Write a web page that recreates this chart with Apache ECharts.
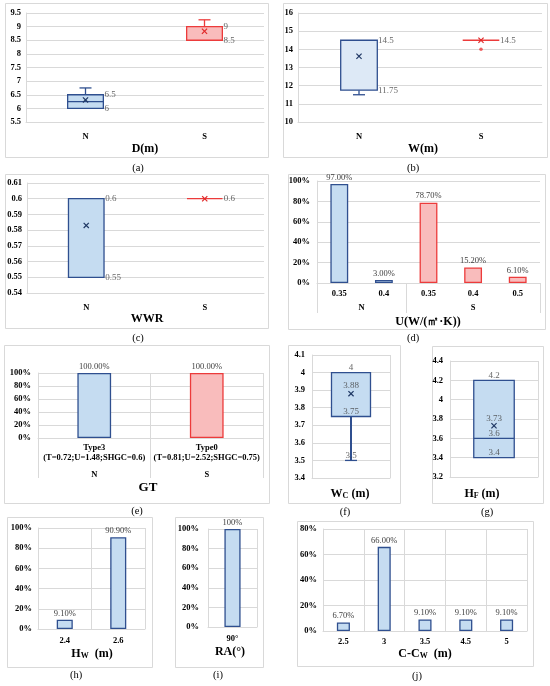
<!DOCTYPE html>
<html lang="en">
<head>
<meta charset="UTF-8">
<title>Parameter distributions</title>
<style>
  html, body { margin: 0; padding: 0; background: #fff; }
  #main { width: 550px; height: 686px; }
</style>
</head>
<body>
<div id="main"></div>
<script src="https://cdn.jsdelivr.net/npm/echarts@6/dist/echarts.min.js"></script>
<script>
// box stats are [min, Q1, median, Q3, max, mean]
// (a) D(m)
var dCats = ['N', 'S'];
var dN = [6, 6, 6.25, 6.5, 6.75, 6.31];
var dS = [8.5, 8.5, 9, 9, 9.25, 8.83];
// (b) W(m)
var wCats = ['N', 'S'];
var wN = [11.5, 11.75, 14.5, 14.5, 14.5, 13.62];
var wS = [14.5, 14.5, 14.5, 14.5, 14.5, 14.5];
var wSOutliers = [14];
// (c) WWR
var wwrCats = ['N', 'S'];
var wwrN = [0.55, 0.55, 0.6, 0.6, 0.6, 0.583];
var wwrS = [0.6, 0.6, 0.6, 0.6, 0.6, 0.6];
// (d) U share (%)
var uCats = ['0.35', '0.4', '0.35', '0.4', '0.5'];
var uGroups = ['N', 'N', 'S', 'S', 'S'];
var uVals = [97, 3, 78.7, 15.2, 6.1];
// (e) GT share (%)
var gtCats = ['Type3\n(T=0.72;U=1.48;SHGC=0.6)', 'Type0\n(T=0.81;U=2.52;SHGC=0.75)'];
var gtGroups = ['N', 'S'];
var gtVals = [100, 100];
// (f) Wc and (g) Hf
var wc = [3.5, 3.75, 3.75, 4, 4, 3.88];
var hf = [3.4, 3.4, 3.6, 4.2, 4.2, 3.73];
// (h) Hw, (i) RA, (j) C-Cw shares (%)
var hwCats = ['2.4', '2.6'];
var hwVals = [9.1, 90.9];
var raCats = ['90°'];
var raVals = [100];
var ccCats = ['2.5', '3', '3.5', '4.5', '5'];
var ccVals = [6.7, 66, 9.1, 9.1, 9.1];

var FONT = '"Liberation Serif", "Times New Roman", serif';
var GRID_C = '#d9d9d9', TXT = '#000', LBL = '#404040';
var BLUE = { fill: '#c5dcf1', line: '#2f4f8f', mark: '#1f3864' };
var BLUE_L = { fill: '#dde9f6', line: '#2f4f8f', mark: '#1f3864' };
var RED = { fill: '#f9bcbc', line: '#ec3b3b', mark: '#e02828' };

var myChart = echarts.init(document.getElementById('main'));

var grids = [], xAxes = [], yAxes = [], series = [], graphics = [];

function addGrid(l, t, w, h) {
  grids.push({ left: l, top: t, width: w, height: h, outerBoundsMode: 'none' });
  return grids.length - 1;
}

function catAxis(gi, cats, margin, split, showLabel) {
  xAxes.push({
    type: 'category', gridIndex: gi, data: cats,
    axisLine: { show: true, lineStyle: { color: GRID_C } },
    axisTick: { show: false },
    splitLine: { show: !!split, interval: 0, lineStyle: { color: GRID_C } },
    axisLabel: { show: showLabel !== false, interval: 0, margin: margin, fontFamily: FONT,
      fontWeight: 'bold', fontSize: 8.5, color: TXT, lineHeight: 10 }
  });
  return xAxes.length - 1;
}

function valAxis(gi, min, max, step, pct, margin) {
  yAxes.push({
    type: 'value', gridIndex: gi, min: min, max: max, interval: step,
    axisLine: { show: true, lineStyle: { color: GRID_C } }, axisTick: { show: false },
    splitLine: { lineStyle: { color: GRID_C } },
    axisLabel: { margin: margin, fontFamily: FONT, fontWeight: 'bold', fontSize: 8.5, color: TXT,
      formatter: pct ? '{value}%' : null }
  });
  return yAxes.length - 1;
}

// second level of a multi-level category axis (group names with separators)
function groupAxis(gi, groups, tickLen, margin) {
  var bounds = [0], centers = [], names = [];
  var start = 0;
  for (var i = 1; i <= groups.length; i++) {
    if (i === groups.length || groups[i] !== groups[i - 1]) {
      bounds.push(i);
      centers.push((start + i) / 2);
      names.push(groups[i - 1]);
      start = i;
    }
  }
  xAxes.push({
    type: 'value', gridIndex: gi, position: 'bottom', min: 0, max: groups.length,
    axisLine: { show: false }, splitLine: { show: false },
    axisTick: { show: true, customValues: bounds, length: tickLen, lineStyle: { color: GRID_C } },
    axisLabel: { customValues: centers, margin: margin, fontFamily: FONT, fontWeight: 'bold',
      fontSize: 8.5, color: TXT,
      formatter: function (v) { var k = centers.indexOf(v); return k < 0 ? '' : names[k]; } }
  });
}

function boxSeries(xi, yi, cat, st, col, frac, whiskerW) {
  return {
    type: 'custom', xAxisIndex: xi, yAxisIndex: yi, silent: true,
    encode: { x: 0, y: [1, 2, 3, 4, 5, 6] },
    data: [[cat].concat(st)],
    renderItem: function (params, api) {
      var x = api.value(0);
      var hw = api.size([1, 0])[0] * frac / 2;
      var p = [];
      for (var k = 1; k <= 6; k++) p.push(api.coord([x, api.value(k)]));
      var cx = p[0][0];
      var yMin = p[0][1], yQ1 = p[1][1], yMed = p[2][1], yQ3 = p[3][1], yMax = p[4][1], yMean = p[5][1];
      function ln(x1, y1, x2, y2, w, c) {
        return { type: 'line', shape: { x1: x1, y1: y1, x2: x2, y2: y2 },
          style: { stroke: c || col.line, lineWidth: w || 1.3 } };
      }
      var kids = [];
      if (yMax < yQ3 - 0.5) { kids.push(ln(cx, yQ3, cx, yMax, whiskerW)); kids.push(ln(cx - 6, yMax, cx + 6, yMax)); }
      if (yMin > yQ1 + 0.5) { kids.push(ln(cx, yQ1, cx, yMin, whiskerW)); kids.push(ln(cx - 6, yMin, cx + 6, yMin)); }
      if (yQ1 - yQ3 > 0.5) {
        kids.push({ type: 'rect', shape: { x: cx - hw, y: yQ3, width: 2 * hw, height: yQ1 - yQ3 },
          style: { fill: col.fill, stroke: col.line, lineWidth: 1.3 } });
      } else {
        kids.push(ln(cx - hw, yQ3, cx + hw, yQ3, 1.3));
      }
      if (yMed < yQ1 - 0.5 && yMed > yQ3 + 0.5) kids.push(ln(cx - hw, yMed, cx + hw, yMed));
      var m = 2.6;
      kids.push(ln(cx - m, yMean - m, cx + m, yMean + m, 1.2, col.mark));
      kids.push(ln(cx - m, yMean + m, cx + m, yMean - m, 1.2, col.mark));
      return { type: 'group', children: kids };
    }
  };
}

function labelSeries(xi, yi, pts, pos, dist) {
  return {
    type: 'scatter', xAxisIndex: xi, yAxisIndex: yi, silent: true,
    symbolSize: 0.1, itemStyle: { color: 'transparent' }, data: pts,
    label: { show: true, position: pos, distance: dist, fontFamily: FONT, fontSize: 9, color: LBL,
      formatter: function (p) { return String(p.value[1]); } }
  };
}

function pick(cat, st, idx) {
  return idx.map(function (k) { return [cat, st[k]]; });
}

function barSeries(xi, yi, vals, cols, width, dec) {
  return {
    type: 'bar', xAxisIndex: xi, yAxisIndex: yi, barWidth: width, silent: true,
    data: vals.map(function (v, i) {
      return { value: v, itemStyle: { color: cols[i].fill, borderColor: cols[i].line, borderWidth: 1.3 } };
    }),
    label: { show: true, position: 'top', distance: 2, fontFamily: FONT, fontSize: 8.5, color: LBL,
      formatter: function (p) { return p.value.toFixed(dec) + '%'; } }
  };
}

function groupColors(groups) {
  return groups.map(function (g) { return g === 'N' ? BLUE : RED; });
}

function frame(x, y, w, h) {
  graphics.push({ type: 'rect', z: -1, shape: { x: x + 0.5, y: y + 0.5, width: w, height: h },
    style: { fill: 'none', stroke: GRID_C, lineWidth: 1 } });
}

function text(x, y, str, size, bold, rich) {
  graphics.push({ type: 'text', x: x, y: y, style: {
    text: str, fill: TXT, fontFamily: FONT, fontSize: size, fontWeight: bold ? 'bold' : 'normal',
    align: 'center', verticalAlign: 'middle', textAlign: 'center', textVerticalAlign: 'middle', rich: rich } });
}

var SUB = { s: { fontFamily: FONT, fontSize: 8, fontWeight: 'bold', fill: TXT, padding: [4, 0, 0, 0] } };

var g, xi, yi;

// (a)
g = addGrid(26, 13, 238, 109);
xi = catAxis(g, dCats, 10); yi = valAxis(g, 5.5, 9.5, 0.5, false, 5);
series.push(boxSeries(xi, yi, 0, dN, BLUE, 0.3, 1.3), boxSeries(xi, yi, 1, dS, RED, 0.3, 1.3));
series.push(labelSeries(xi, yi, pick(0, dN, [3, 1]).concat(pick(1, dS, [3, 1])), 'right', 19));
frame(5, 3, 263, 154); text(145, 149, 'D(m)', 12, true); text(138, 168, '(a)', 10.5, false);

// (b)
g = addGrid(298, 13, 244, 109);
xi = catAxis(g, wCats, 10); yi = valAxis(g, 10, 16, 1, false, 5);
series.push(boxSeries(xi, yi, 0, wN, BLUE_L, 0.3, 1.3), boxSeries(xi, yi, 1, wS, RED, 0.3, 1.3));
series.push({ type: 'scatter', xAxisIndex: xi, yAxisIndex: yi, silent: true, symbolSize: 3.5,
  itemStyle: { color: RED.line }, data: wSOutliers.map(function (v) { return [1, v]; }) });
series.push(labelSeries(xi, yi, pick(0, wN, [3, 1]).concat(pick(1, wS, [3])), 'right', 19));
frame(283, 3, 264, 154); text(423, 149, 'W(m)', 12, true); text(413, 168, '(b)', 10.5, false);

// (c)
g = addGrid(27, 183, 237, 110);
xi = catAxis(g, wwrCats, 10); yi = valAxis(g, 0.54, 0.61, 0.01, false, 5);
series.push(boxSeries(xi, yi, 0, wwrN, BLUE, 0.3, 1.3), boxSeries(xi, yi, 1, wwrS, RED, 0.3, 1.3));
series.push(labelSeries(xi, yi, pick(0, wwrN, [3, 1]).concat(pick(1, wwrS, [3])), 'right', 19));
frame(5, 174, 263, 154); text(147, 319, 'WWR', 12, true); text(138, 338, '(c)', 10.5, false);

// (d)
g = addGrid(317, 181, 223, 102);
xi = catAxis(g, uCats, 6); yi = valAxis(g, 0, 100, 20, true, 7);
groupAxis(g, uGroups, 30, 20);
series.push(barSeries(xi, yi, uVals, groupColors(uGroups), '40%', 2));
frame(288, 174, 257, 155); text(428, 322, 'U(W/(㎡·K))', 12, true); text(413, 338, '(d)', 10.5, false);

// (e)
g = addGrid(38, 373, 225, 65);
xi = catAxis(g, gtCats, 5, true); yi = valAxis(g, 0, 100, 20, true, 7);
groupAxis(g, gtGroups, 40, 32);
series.push(barSeries(xi, yi, gtVals, groupColors(gtGroups), '30%', 2));
frame(4, 345, 265, 158); text(148, 488, 'GT', 13, true); text(137, 511, '(e)', 10.5, false);

// (f)
g = addGrid(312, 355, 78, 123);
xi = catAxis(g, [''], 5, true, false); yi = valAxis(g, 3.4, 4.1, 0.1, false, 7);
series.push(boxSeries(xi, yi, 0, wc, BLUE, 0.5, 2));
series.push(labelSeries(xi, yi, pick(0, wc, [3, 1, 0]), 'top', 0));
series.push(labelSeries(xi, yi, pick(0, wc, [5]), 'top', 3));
frame(288, 345, 112, 158); text(350, 494, 'W{s|C} (m)', 12, true, SUB); text(345, 512, '(f)', 10.5, false);

// (g)
g = addGrid(450, 361, 88, 116);
xi = catAxis(g, [''], 5, true, false); yi = valAxis(g, 3.2, 4.4, 0.2, false, 7);
series.push(boxSeries(xi, yi, 0, hf, BLUE, 0.46, 1.3));
series.push(labelSeries(xi, yi, pick(0, hf, [3, 2, 1]), 'top', 0));
series.push(labelSeries(xi, yi, pick(0, hf, [5]), 'top', 3));
frame(432, 346, 111, 157); text(482, 494, 'H{s|F} (m)', 12, true, SUB); text(487, 512, '(g)', 10.5, false);

// (h)
g = addGrid(38, 528, 107, 101);
xi = catAxis(g, hwCats, 7, true); yi = valAxis(g, 0, 100, 20, true, 6);
series.push(barSeries(xi, yi, hwVals, hwVals.map(function () { return BLUE; }), '30%', 2));
frame(7, 517, 145, 150); text(92, 654, 'H{s|W}  (m)', 12, true, SUB); text(76, 675, '(h)', 10.5, false);

// (i)
g = addGrid(208, 529, 49, 98);
xi = catAxis(g, raCats, 7, true); yi = valAxis(g, 0, 100, 20, true, 9);
series.push(barSeries(xi, yi, raVals, [BLUE], '33%', 0));
frame(175, 517, 88, 150); text(230, 652, 'RA(°)', 12, true); text(218, 675, '(i)', 10.5, false);

// (j)
g = addGrid(323, 529, 204, 102);
xi = catAxis(g, ccCats, 6, true); yi = valAxis(g, 0, 80, 20, true, 6);
series.push(barSeries(xi, yi, ccVals, ccVals.map(function () { return BLUE; }), '32%', 2));
frame(297, 521, 236, 145); text(425, 654, 'C-C{s|W}  (m)', 12, true, SUB); text(417, 676, '(j)', 10.5, false);

var option = {
  backgroundColor: '#fff',
  animation: false,
  textStyle: { fontFamily: FONT },
  grid: grids,
  xAxis: xAxes,
  yAxis: yAxes,
  series: series,
  graphic: graphics
};

myChart.setOption(option);
</script>
</body>
</html>
